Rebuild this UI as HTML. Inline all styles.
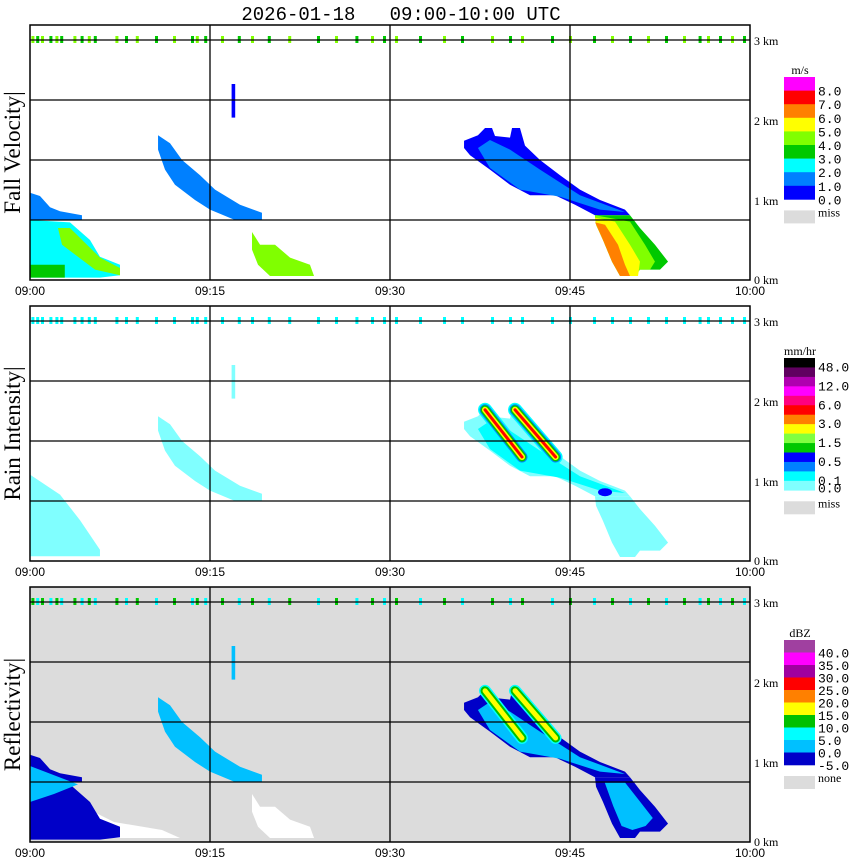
<!DOCTYPE html>
<html><head><meta charset="utf-8">
<style>
html,body{margin:0;padding:0;background:#fff;}
svg{display:block;}
</style></head>
<body>
<svg id="chart" width="850" height="868" xmlns="http://www.w3.org/2000/svg" font-family="Liberation Serif, serif">
<text x="401" y="20" font-family="Liberation Mono, monospace" font-size="19" text-anchor="middle" xml:space="preserve">2026-01-18   09:00-10:00 UTC</text>
</svg>
<script>
// ---- data (time in minutes after 09:00, height in km) ----
const xTickLabels = ["09:00","09:15","09:30","09:45","10:00"];
const xTickMinutes = [0,15,30,45,60];
const yTickLabels = ["0 km","1 km","2 km","3 km"];
const yTickKm = [0,1,2,3];
const gridKm = [0.75,1.5,2.25,3];
const panelTitles = ["Fall Velocity","Rain Intensity","Reflectivity"];
const speckleMinutes = [0.2,0.6,1,1.7,2.2,2.6,3.7,4.3,4.9,5.4,7.2,8,8.9,10.5,12,13.5,13.9,14.6,16,17.4,18.5,19.9,21.6,24,25.5,27.2,28.5,29.5,30.5,32.5,34.5,36,38.5,40,41,43.5,45,47,48.5,50,51.5,53,54.5,55.8,56.5,57.5,58.5,59.5];
// echo shapes
const shapeA1 = [[0,1.09],[0.83,1.05],[1.67,0.91],[2.5,0.86],[4.33,0.81],[4.33,0.75],[0,0.75]];
const shapeA2 = [[0,0.75],[3.33,0.72],[5,0.5],[5.83,0.29],[7.5,0.19],[7.5,0.06],[5.83,0.03],[0,0.03]];
const shapeAgreen = [[0,0.19],[2.9,0.19],[2.9,0.03],[0,0.03]];
const shapeAlime = [[2.33,0.65],[3.33,0.65],[5.83,0.28],[7.5,0.15],[7.5,0.06],[5.42,0.13],[2.67,0.44]];
const shapeB = [[10.67,1.81],[11.67,1.71],[12.67,1.5],[14.17,1.31],[15.42,1.13],[17.5,0.94],[19.33,0.84],[19.33,0.75],[17.08,0.75],[15,0.88],[13.75,1.0],[12.08,1.19],[11.25,1.38],[10.67,1.63]];
const shapeC = [[18.5,0.6],[19.17,0.44],[20.42,0.44],[21.67,0.28],[23.33,0.19],[23.67,0.05],[20,0.05],[19,0.19],[18.5,0.38]];
const shapeBlip = [[16.8,2.45],[17.1,2.45],[17.1,2.03],[16.8,2.03]];
const shapeD = [[36.17,1.74],[37.33,1.81],[37.92,1.9],[38.5,1.9],[38.75,1.8],[40,1.78],[40.17,1.9],[40.83,1.9],[41.25,1.68],[42.5,1.5],[44.17,1.31],[45.83,1.13],[47.5,1.0],[49.58,0.88],[50,0.81],[47.08,0.81],[45.42,0.94],[43.75,1.06],[41.67,1.06],[40,1.19],[38.33,1.38],[36.67,1.56],[36.17,1.65]];
const shapeDinner = [[37.33,1.65],[38.33,1.75],[40,1.63],[42.5,1.38],[45.83,1.06],[49.58,0.85],[47.5,0.88],[44.17,1.04],[40.83,1.13],[38.33,1.4]];
const shapeE = [[47.08,0.81],[50,0.81],[50.83,0.65],[52.08,0.44],[53.17,0.23],[52.5,0.13],[50.83,0.13],[50.42,0.05],[49.17,0.05],[48.5,0.23],[47.75,0.5],[47.17,0.69]];
const shapeElime = [[47.08,0.81],[50,0.73],[51.25,0.44],[52.08,0.23],[51.67,0.13],[50.83,0.13],[50.42,0.05],[49.17,0.05],[48.5,0.23],[47.75,0.5],[47.17,0.69]];
const shapeEyellow = [[47.08,0.78],[48.75,0.73],[50,0.44],[50.83,0.23],[50.67,0.05],[49.17,0.05],[48.5,0.23],[47.75,0.5],[47.17,0.69]];
const shapeEorange = [[47.1,0.72],[47.92,0.69],[49,0.44],[49.58,0.19],[50,0.05],[49.17,0.05],[48.5,0.23],[47.75,0.5]];
const shapeEinner = [[47.9,0.74],[49.6,0.74],[50.6,0.55],[51.9,0.3],[51.3,0.2],[50.2,0.15],[49.3,0.2],[48.6,0.45]];
const shapeArain = [[0,1.08],[2.5,0.83],[4.17,0.51],[5.83,0.14],[5.83,0.06],[0,0.06]];
const shapeAlb = [[0,0.95],[4,0.72],[2,0.6],[0,0.5]];
const shapeAwhite = [[5,0.4],[7,0.25],[11,0.15],[12.5,0.05],[6,0.05]];
const streak1 = [[37.92,1.89],[41.0,1.3]];
const streak2 = [[40.42,1.89],[43.8,1.3]];
const blobRain = [47.92,0.86];
const legVel = {title:"m/s",colors:["#ff00ff","#ff0000","#ff8000","#ffff00","#80ff00","#00c800","#00ffff","#0080ff","#0000ff"],labels:["8.0","7.0","6.0","5.0","4.0","3.0","2.0","1.0","0.0"],miss:"miss"};
const legRain = {title:"mm/hr",colors:["#000000","#600060","#b000b0","#ff00ff","#ff0080","#ff0000","#ff8000","#ffff00","#80ff40","#00c800","#0000ff","#0080ff","#00ffff","#80ffff"],labels:["48.0","12.0","6.0","3.0","1.5","0.5","0.1","0.0"],miss:"miss"};
const legRef = {title:"dBZ",colors:["#a040a0","#ff00ff","#a000a0","#ff0000","#ff8000","#ffff00","#00c000","#00ffff","#00c0ff","#0000c8"],labels:["40.0","35.0","30.0","25.0","20.0","15.0","10.0","5.0","0.0","-5.0"],miss:"none"};

// ---- layout ----
const svg = document.getElementById('chart');
const NS = 'http://www.w3.org/2000/svg';
const X0 = 30, X1 = 750;
const bases = [280, 561, 842];
const PXKM = 80;
function xs(m){return X0 + (X1-X0)*m/60;}
function ys(p,k){return bases[p] - k*PXKM;}
function mk(tag, attrs, parent){const e=document.createElementNS(NS,tag);for(const a in attrs)e.setAttribute(a,attrs[a]);(parent||svg).appendChild(e);return e;}
function poly(p, pts, fill, name, g){
  const e = mk('polygon',{points:pts.map(q=>xs(q[0])+','+ys(p,q[1])).join(' '),fill:fill},g);
  
  
  return e;
}
function streak(p, s, color, w, name, g){
  const e = mk('line',{x1:xs(s[0][0]),y1:ys(p,s[0][1]),x2:xs(s[1][0]),y2:ys(p,s[1][1]),stroke:color,'stroke-width':w,'stroke-linecap':'round'},g);
  
  
}

for(let p=0;p<3;p++){
  const top = bases[p]-255;
  const g = mk('g',{});
  
  
  if(p===2) mk('rect',{x:X0,y:top,width:X1-X0,height:255,fill:'#dcdcdc'},g);
  if(p===0){
    poly(p,shapeA1,'#0080ff','echo-a-upper',g);
    poly(p,shapeA2,'#00ffff','echo-a-lower',g);
    poly(p,shapeAgreen,'#00c800','echo-a-green',g);
    poly(p,shapeAlime,'#80ff00','echo-a-lime',g);
    poly(p,shapeB,'#0080ff','echo-b',g);
    poly(p,shapeC,'#80ff00','echo-c',g);
    poly(p,shapeBlip,'#0000ff','echo-blip',g);
    poly(p,shapeD,'#0000ff','echo-d-outer',g);
    poly(p,shapeDinner,'#0080ff','echo-d-inner',g);
    poly(p,shapeE,'#00c800','echo-e-green',g);
    poly(p,shapeElime,'#80ff00','echo-e-lime',g);
    poly(p,shapeEyellow,'#ffff00','echo-e-yellow',g);
    poly(p,shapeEorange,'#ff8000','echo-e-orange',g);
  } else if(p===1){
    poly(p,shapeArain,'#80ffff','echo-a',g);
    poly(p,shapeB,'#80ffff','echo-b',g);
    poly(p,shapeBlip,'#80ffff','echo-blip',g);
    poly(p,shapeD,'#80ffff','echo-d',g);
    poly(p,shapeDinner,'#00ffff','echo-d-inner',g);
    poly(p,shapeE,'#80ffff','echo-e',g);
    [streak1,streak2].forEach((s,i)=>{
      streak(p,s,'#00ffff',14,'rain-streak-'+(i+1)+'-cyan',g);
      streak(p,s,'#0080ff',11,'rain-streak-'+(i+1)+'-blue',g);
      streak(p,s,'#00c800',9,'rain-streak-'+(i+1)+'-green',g);
      streak(p,s,'#ffff00',6,'rain-streak-'+(i+1)+'-yellow',g);
      streak(p,s,'#ff0000',3,'rain-streak-'+(i+1)+'-red',g);
    });
    const b = mk('ellipse',{cx:xs(blobRain[0]),cy:ys(p,blobRain[1]),rx:7,ry:4,fill:'#0000ff'},g);
    
    
  } else {
    poly(p,shapeAwhite,'#ffffff','echo-a-white',g);
    poly(p,shapeA1,'#0000c8','echo-a-upper',g);
    poly(p,shapeA2,'#0000c8','echo-a-lower',g);
    poly(p,shapeAlb,'#00c0ff','echo-a-light',g);
    poly(p,shapeC,'#ffffff','echo-c',g);
    poly(p,shapeB,'#00c0ff','echo-b',g);
    poly(p,shapeBlip,'#00c0ff','echo-blip',g);
    poly(p,shapeD,'#0000c8','echo-d-outer',g);
    poly(p,shapeDinner,'#00c0ff','echo-d-inner',g);
    poly(p,shapeE,'#0000c8','echo-e-outer',g);
    poly(p,shapeEinner,'#00c0ff','echo-e-inner',g);
    [streak1,streak2].forEach((s,i)=>{
      streak(p,s,'#00ffff',12,'ref-streak-'+(i+1)+'-cyan',g);
      streak(p,s,'#00c000',9,'ref-streak-'+(i+1)+'-green',g);
      streak(p,s,'#ffff00',5,'ref-streak-'+(i+1)+'-yellow',g);
    });
  }
  const spCol = [['#80ff00','#00c800'],['#00ffff','#00ffff'],['#00c800','#00ffff']][p];
  speckleMinutes.forEach((m,i)=>{
    const r = mk('rect',{x:xs(m)-1,y:ys(p,3)-4,width:3,height:7,fill:spCol[i%2]},g);
    
    
  });
  gridKm.forEach(k=>{
    const l = mk('line',{x1:X0,x2:X1,y1:ys(p,k),y2:ys(p,k),stroke:'#000','stroke-width':1.3},g);
    
    
  });
  xTickMinutes.slice(1,4).forEach(m=>{
    const l = mk('line',{x1:xs(m),x2:xs(m),y1:top,y2:bases[p],stroke:'#000','stroke-width':1.3},g);
    
    
  });
  const fr = mk('rect',{x:X0,y:top,width:X1-X0,height:255,fill:'none',stroke:'#000','stroke-width':1.5},g);
  
  
  xTickMinutes.forEach((m,i)=>{
    const t = mk('text',{x:xs(m),y:bases[p]+15,'text-anchor':'middle','font-size':12,'font-family':'Liberation Sans Narrow, Liberation Sans, sans-serif'},g);
    t.textContent = xTickLabels[i];
    
    
  });
  yTickKm.forEach((k,i)=>{
    const t = mk('text',{x:X1+4,y:ys(p,k)+(k===0?4:5),'font-size':12},g);
    t.textContent = yTickLabels[i];
    
    
  });
  const cy = (top+bases[p])/2;
  const tt = mk('text',{x:0,y:0,'font-size':23,'text-anchor':'middle',transform:'translate(20,'+cy+') rotate(-90)'},g);
  tt.textContent = panelTitles[p]+'|';
  
  
  const leg = [legVel,legRain,legRef][p];
  const legTop = [77,358,640][p];
  const boxH = [13.6,9.45,12.5][p];
  const lt = mk('text',{x:800,y:legTop-3,'text-anchor':'middle','font-size':12},g);
  lt.textContent = leg.title;
  
  
  leg.colors.forEach((c,i)=>{
    const r = mk('rect',{x:784,y:legTop+i*boxH,width:31,height:boxH+0.3,fill:c},g);
    
    
  });
  const nB = leg.colors.length;
  leg.labels.forEach((lb,i)=>{
    let yy;
    if(p===1){ const idx=[1,3,5,7,9,11,13,14][i]; yy = legTop + idx*boxH + 4; if(i===7) yy-=2; }
    else yy = legTop + (i+1)*boxH + 5;
    const t = mk('text',{x:818,y:yy,'font-size':13,'font-family':'Liberation Mono, monospace'},g);
    t.textContent = lb;
    
    
  });
  const missY = legTop + nB*boxH + 11;
  const mr = mk('rect',{x:784,y:missY,width:31,height:13,fill:'#dcdcdc'},g);
  
  
  const mt = mk('text',{x:818,y:missY+6,'font-size':12},g);
  mt.textContent = leg.miss;
  
  
}
</script>
</body></html>
